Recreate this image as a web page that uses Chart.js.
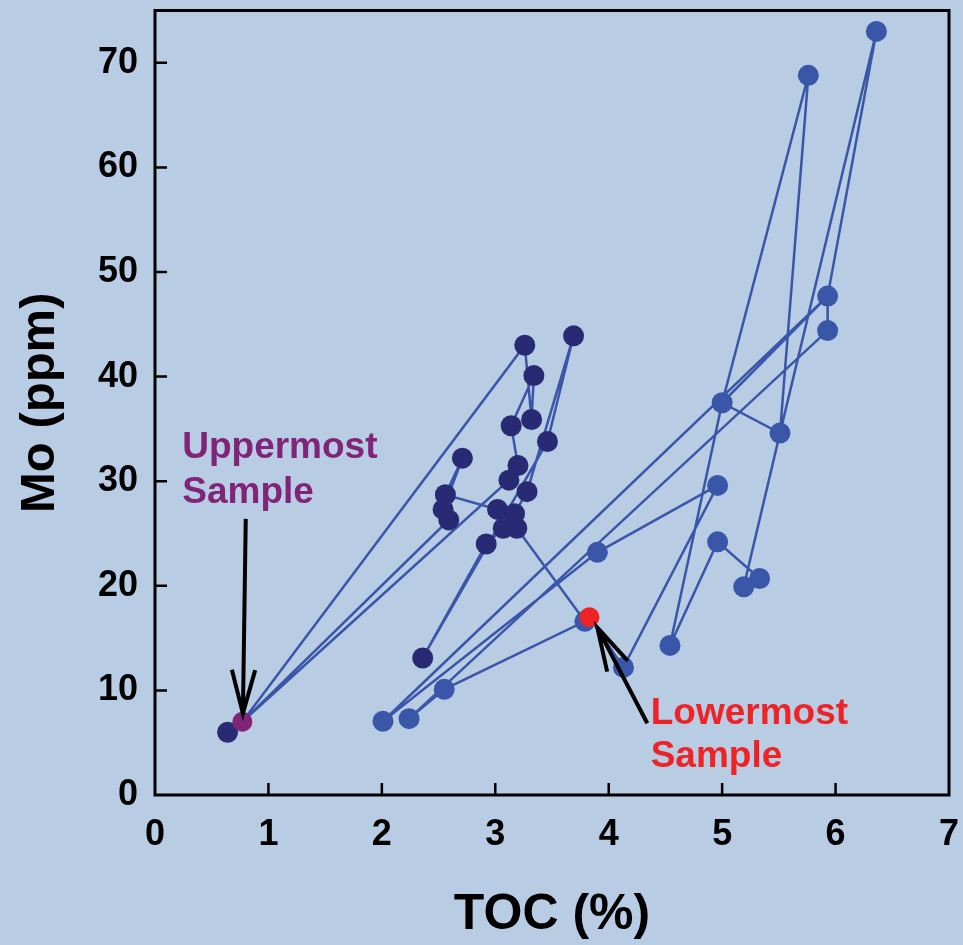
<!DOCTYPE html>
<html>
<head>
<meta charset="utf-8">
<script src="https://cdn.jsdelivr.net/npm/chart.js@4.4.1/dist/chart.umd.min.js"></script>
<style>
  html, body { margin: 0; padding: 0; background: #b8cce4; }
  #wrap { width: 963px; height: 945px; position: relative; }
</style>
</head>
<body>
<div id="wrap"><canvas id="chart"></canvas></div>
<script>
// Samples: index 0 is the uppermost sample, the last one is the lowermost.
const sampleToc = [
  0.77,
  0.64, 2.36, 3.26, 3.69, 3.34, 3.32, 3.14, 3.46, 2.71, 3.20,
  3.12, 3.28, 2.56, 2.54, 2.59, 3.02, 3.17, 3.07, 3.19, 2.92,
  2.01, 2.24, 2.55, 3.79, 3.90, 4.13, 4.54, 4.96, 4.96, 5.00,
  5.51, 5.19, 5.33, 5.93, 5.93, 5.76, 6.36,
  3.83
];
const sampleMo = [
  7.0,
  6.0, 13.1, 43.0, 43.9, 40.1, 35.9, 35.3, 33.8, 32.2, 31.5,
  30.1, 29.0, 28.7, 27.3, 26.3, 27.3, 26.9, 25.5, 25.5, 24.0,
  7.05, 7.3, 10.1, 16.6, 23.2, 12.2, 14.3, 24.2, 29.6, 37.5,
  34.6, 19.9, 20.7, 47.7, 44.4, 68.8, 73.0,
  17.0
];
const sampleUnit = [
  'top',
  'upper', 'upper', 'upper', 'upper', 'upper', 'upper', 'upper', 'upper', 'upper', 'upper',
  'upper', 'upper', 'upper', 'upper', 'upper', 'upper', 'upper', 'upper', 'upper', 'upper',
  'lower', 'lower', 'lower', 'lower', 'lower', 'lower', 'lower', 'lower', 'lower', 'lower',
  'lower', 'lower', 'lower', 'lower', 'lower', 'lower', 'lower',
  'base'
];
// order in which the connecting line runs through the samples
const trace = [0, 3, 6, 5, 7, 10, 11, 0, 15, 14, 9, 13, 16, 17, 12, 4, 8, 2, 20, 18, 19,
  24, 23, 22, 35, 34, 37, 31, 36, 30, 27, 28, 33, 32, 31, 30, 34, 21, 25, 29, 26, 38];

const xTicks = [0, 1, 2, 3, 4, 5, 6, 7];
const yTicks = [0, 10, 20, 30, 40, 50, 60, 70];

const BG = '#b8cce4';
const LINE = '#3a56a8';
const UPPER = '#282a74';
const LOWER = '#3a56a8';
const TOP = '#7f2477';
const BASE = '#ee2326';
const FONT = '"Liberation Sans", Arial, Helvetica, sans-serif';

const pts = (unit) => sampleToc
  .map((x, i) => ({ x, y: sampleMo[i], u: sampleUnit[i] }))
  .filter(p => p.u === unit);

// callouts: text and arrow tail/tip in data units
const callouts = [
  { lines: ['Uppermost', 'Sample'], color: TOP, x: 0.24, y: [32.2, 27.9],
    tail: [0.80, 26.4], tip: [0.775, 7.8] },
  { lines: ['Lowermost', 'Sample'], color: BASE, x: 4.37, y: [6.77, 2.67],
    tail: [4.34, 6.86], tip: [3.90, 16.0] }
];

const decor = {
  id: 'decor',
  beforeDraw(chart) {
    const ctx = chart.ctx;
    ctx.save();
    ctx.fillStyle = BG;
    ctx.fillRect(0, 0, chart.width, chart.height);
    ctx.restore();
  },
  afterDraw(chart) {
    const { ctx, chartArea: a, scales: { x, y } } = chart;
    ctx.save();
    ctx.strokeStyle = '#000';
    ctx.lineWidth = 2.5;
    // inward tick marks
    ctx.beginPath();
    xTicks.slice(1, -1).forEach(v => {
      const px = x.getPixelForValue(v);
      ctx.moveTo(px, a.bottom);
      ctx.lineTo(px, a.bottom - 12);
    });
    yTicks.slice(1).forEach(v => {
      const py = y.getPixelForValue(v);
      ctx.moveTo(a.left, py);
      ctx.lineTo(a.left + 12, py);
    });
    ctx.stroke();
    ctx.lineWidth = 3;
    ctx.strokeRect(a.left, a.top, a.right - a.left, a.bottom - a.top);

    // callout text and arrows
    callouts.forEach(c => {
      ctx.fillStyle = c.color;
      ctx.font = 'bold 37px ' + FONT;
      ctx.textAlign = 'left';
      ctx.textBaseline = 'alphabetic';
      c.lines.forEach((t, k) => ctx.fillText(t, x.getPixelForValue(c.x), y.getPixelForValue(c.y[k])));

      const tx = x.getPixelForValue(c.tail[0]), ty = y.getPixelForValue(c.tail[1]);
      const hx = x.getPixelForValue(c.tip[0]), hy = y.getPixelForValue(c.tip[1]);
      const ang = Math.atan2(ty - hy, tx - hx);
      const len = 45, spread = 15 * Math.PI / 180;
      ctx.strokeStyle = '#000';
      ctx.lineWidth = 4;
      ctx.lineCap = 'butt';
      ctx.beginPath();
      ctx.moveTo(tx, ty);
      ctx.lineTo(hx, hy);
      ctx.moveTo(hx + len * Math.cos(ang - spread), hy + len * Math.sin(ang - spread));
      ctx.lineTo(hx, hy);
      ctx.lineTo(hx + len * Math.cos(ang + spread), hy + len * Math.sin(ang + spread));
      ctx.stroke();
    });
    ctx.restore();
  }
};

new Chart(document.getElementById('chart'), {
  type: 'scatter',
  data: {
    datasets: [
      {
        data: trace.map(i => ({ x: sampleToc[i], y: sampleMo[i] })),
        showLine: true, borderColor: LINE, borderWidth: 2.5,
        pointRadius: 0, order: 3
      },
      {
        data: pts('upper'), backgroundColor: UPPER, borderWidth: 0,
        pointRadius: 10.5, order: 2
      },
      {
        data: pts('lower'), backgroundColor: LOWER, borderWidth: 0,
        pointRadius: 10.5, order: 2
      },
      {
        data: pts('top'), backgroundColor: TOP, borderWidth: 0,
        pointRadius: 10, order: 1
      },
      {
        data: pts('base'), backgroundColor: BASE, borderWidth: 0,
        pointRadius: 10, order: 1
      }
    ]
  },
  options: {
    responsive: true,
    maintainAspectRatio: false,
    animation: false,
    layout: { padding: { top: 8, right: 14, left: 0, bottom: 0 } },
    plugins: { legend: { display: false }, tooltip: { enabled: false } },
    scales: {
      x: {
        type: 'linear', min: 0, max: 7,
        afterBuildTicks: s => { s.ticks = xTicks.map(v => ({ value: v })); },
        afterFit: s => { s.height = 150; s.paddingLeft = 0; s.paddingRight = 0; },
        grid: { display: false, drawTicks: false },
        border: { display: false },
        ticks: { color: '#000', padding: 18, font: { family: FONT, size: 36, weight: 'bold' } },
        title: {
          display: true, text: 'TOC (%)', color: '#000',
          padding: { top: 0, bottom: 0 },
          font: { family: FONT, size: 50, weight: 'bold' }
        }
      },
      y: {
        type: 'linear', min: 0, max: 75,
        afterBuildTicks: s => { s.ticks = yTicks.map(v => ({ value: v })); },
        afterFit: s => { s.width = 155; s.paddingTop = 0; s.paddingBottom = 0; },
        grid: { display: false, drawTicks: false },
        border: { display: false },
        ticks: { color: '#000', padding: 17, font: { family: FONT, size: 36, weight: 'bold' } },
        title: {
          display: true, text: 'Mo (ppm)', color: '#000',
          padding: { top: 11, bottom: 0 },
          font: { family: FONT, size: 49, weight: 'bold' }
        }
      }
    }
  },
  plugins: [decor]
});
</script>
</body>
</html>
